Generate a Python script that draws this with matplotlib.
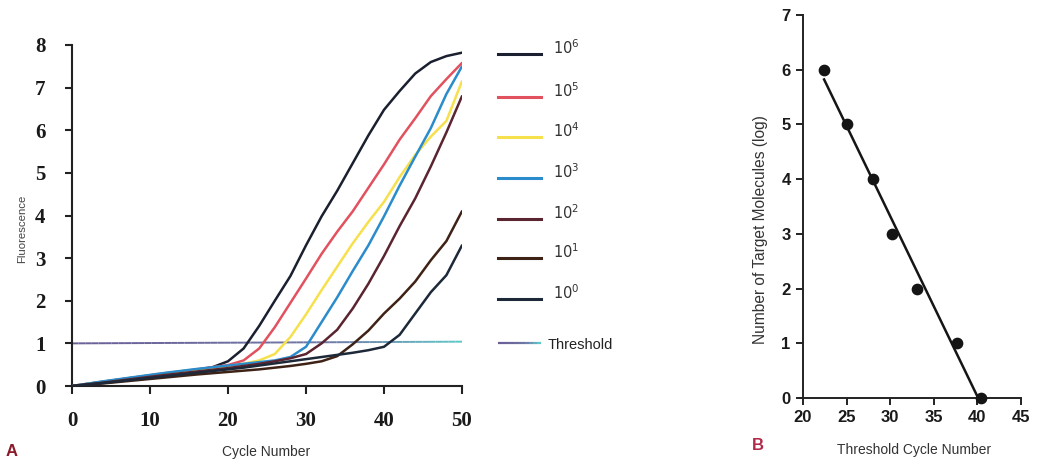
import numpy as np
import matplotlib
matplotlib.use("Agg")
import matplotlib.pyplot as plt
from matplotlib.collections import LineCollection
from matplotlib.lines import Line2D

plt.rcParams['mathtext.fontset'] = 'custom'
plt.rcParams['mathtext.rm'] = 'Liberation Sans'

# ---------------- Data (panel A) ----------------
cycles = [0, 4, 8, 12, 16, 18, 20, 22, 24, 26, 28, 30, 32, 34, 36, 38, 40, 42, 44, 46, 48, 50]
f_1e6 = [0, 0.10, 0.20, 0.29, 0.38, 0.44, 0.58, 0.88, 1.41, 2.00, 2.58, 3.30, 3.98, 4.58, 5.23, 5.88, 6.48, 6.92, 7.33, 7.60, 7.74, 7.82]
f_1e5 = [0, 0.10, 0.20, 0.30, 0.39, 0.44, 0.49, 0.60, 0.88, 1.38, 1.95, 2.52, 3.10, 3.62, 4.10, 4.65, 5.20, 5.78, 6.28, 6.80, 7.20, 7.58]
f_1e4 = [0, 0.10, 0.20, 0.30, 0.38, 0.42, 0.47, 0.52, 0.60, 0.75, 1.15, 1.68, 2.25, 2.80, 3.35, 3.85, 4.32, 4.90, 5.42, 5.85, 6.22, 7.15]
f_1e3 = [0, 0.11, 0.21, 0.31, 0.40, 0.44, 0.48, 0.52, 0.56, 0.60, 0.68, 0.92, 1.50, 2.08, 2.70, 3.30, 3.98, 4.70, 5.38, 6.05, 6.85, 7.50]
f_1e2 = [0, 0.08, 0.17, 0.26, 0.34, 0.38, 0.42, 0.47, 0.52, 0.58, 0.65, 0.75, 1.00, 1.32, 1.82, 2.40, 3.05, 3.75, 4.40, 5.15, 5.95, 6.80]
f_1e1 = [0, 0.06, 0.13, 0.20, 0.27, 0.30, 0.33, 0.36, 0.39, 0.43, 0.47, 0.52, 0.58, 0.70, 0.98, 1.30, 1.70, 2.05, 2.45, 2.95, 3.40, 4.10]
f_1e0 = [0, 0.07, 0.15, 0.23, 0.31, 0.35, 0.39, 0.43, 0.48, 0.53, 0.58, 0.63, 0.68, 0.73, 0.78, 0.84, 0.92, 1.20, 1.70, 2.20, 2.60, 3.30]
series_exponents = ['6', '5', '4', '3', '2', '1', '0']
threshold_cycles = [0, 50]
threshold_values = [1.0, 1.04]

# ---------------- Data (panel B) ----------------
ct_values = [22.42, 25.1, 27.98, 30.24, 33.04, 37.7, 40.4]
log_molecules = [6, 5, 4, 3, 2, 1, 0]

series = [f_1e6, f_1e5, f_1e4, f_1e3, f_1e2, f_1e1, f_1e0]
colors = ['#1b2030', '#e2525e', '#f6e04c', '#2b8ccb', '#5a2530', '#3e2216', '#1d2838']

W, H = 1037, 462
fig = plt.figure(figsize=(W / 100, H / 100), dpi=100)
fig.patch.set_facecolor('white')

serif_family = ['Liberation Serif', 'DejaVu Serif']
narrow = ['Liberation Sans Narrow', 'Liberation Sans', 'DejaVu Sans']

# ---------------- Panel A ----------------
axA = fig.add_axes([72 / W, 1 - 386 / H, (462 - 72) / W, (386 - 45) / H])
for vals, c in zip(series, colors):
    axA.plot(cycles, vals, color=c, lw=1.8, solid_capstyle='round',
             solid_joinstyle='round', zorder=3)

# threshold with purple -> teal gradient
tx = np.linspace(threshold_cycles[0], threshold_cycles[1], 60)
ty = np.interp(tx, threshold_cycles, threshold_values)
pts = np.column_stack([tx, ty]).reshape(-1, 1, 2)
segs = np.concatenate([pts[:-1], pts[1:]], axis=1)
cmap = matplotlib.colors.LinearSegmentedColormap.from_list(
    'thr', ['#6b5f98', '#6b6a9c', '#6f7aa6', '#5fc6c8'])
lc = LineCollection(segs, colors=cmap(np.linspace(0, 1, len(segs))), lw=1.4, zorder=2)
axA.add_collection(lc)

axA.set_xlim(0, 50)
axA.set_ylim(0, 8)
axA.set_xticks([0, 10, 20, 30, 40, 50])
axA.set_yticks(range(0, 9))
for s in ['top', 'right']:
    axA.spines[s].set_visible(False)
for s in ['left', 'bottom']:
    axA.spines[s].set_linewidth(1.5)
    axA.spines[s].set_color('#222222')
axA.tick_params(axis='x', direction='out', length=6, width=1.5, pad=12, colors='#222222')
axA.tick_params(axis='y', direction='out', length=5, width=1.5, pad=14, colors='#222222')
for lab in axA.get_xticklabels() + axA.get_yticklabels():
    lab.set_fontfamily(serif_family)
    lab.set_fontweight('bold')
    lab.set_fontsize(15)
    lab.set_color('#1a1a1a')
axA.set_facecolor('none')

fig.text(22 / W, 1 - 229 / H, 'Fluorescence', rotation=90, ha='center', va='center',
         fontsize=8.2, family=narrow, color='#444444')
fig.text(266 / W, 1 - 452 / H, 'Cycle Number', ha='center', va='center',
         fontsize=10, family=narrow, color='#333333')
fig.text(12 / W, 1 - 452 / H, 'A', ha='center', va='center', fontsize=12,
         family=narrow, fontweight='bold', color='#8a1a2a')

# legend (manual)
legend_y = [54, 97, 137, 178, 219, 258, 299]
for yy, c, e in zip(legend_y, colors, series_exponents):
    fig.add_artist(Line2D([498 / W, 541 / W], [1 - yy / H, 1 - yy / H], color=c, lw=2.2,
                          transform=fig.transFigure))
    fig.text(553 / W, 1 - (yy - 6) / H, r'$\mathregular{10^{%s}}$' % e, ha='left', va='center',
             fontsize=10.5, color='#333333')
thr_leg = np.linspace(498, 541, 12)
tpts = np.column_stack([thr_leg / W, np.full_like(thr_leg, 1 - 343 / H)]).reshape(-1, 1, 2)
tsegs = np.concatenate([tpts[:-1], tpts[1:]], axis=1)
fig.add_artist(LineCollection(tsegs, colors=cmap(np.linspace(0, 1, len(tsegs))), lw=1.6,
                              transform=fig.transFigure))
fig.text(548 / W, 1 - 345 / H, 'Threshold', ha='left', va='center', fontsize=10.5,
         family=narrow, color='#222222')

# ---------------- Panel B ----------------
axB = fig.add_axes([803 / W, 1 - 398 / H, (1021 - 803) / W, (398 - 15) / H])
slope, intercept = np.polyfit(ct_values, log_molecules, 1)
x_end = -intercept / slope
xf = np.array([min(ct_values), x_end])
axB.plot(xf, slope * xf + intercept, color='#151515', lw=1.8, zorder=2)
axB.scatter(ct_values, log_molecules, s=55, color='#151515', zorder=3, clip_on=False)
axB.set_xlim(20, 45)
axB.set_ylim(0, 7)
axB.set_xticks([20, 25, 30, 35, 40, 45])
axB.set_yticks(range(0, 8))
for s in ['top', 'right']:
    axB.spines[s].set_visible(False)
for s in ['left', 'bottom']:
    axB.spines[s].set_linewidth(1.4)
    axB.spines[s].set_color('#222222')
axB.spines['bottom'].set_bounds(19.7, 45)
axB.tick_params(axis='x', direction='out', length=5, width=1.4, pad=4, colors='#222222')
axB.tick_params(axis='y', direction='out', length=5, width=1.4, pad=4, colors='#222222')
for lab in axB.get_xticklabels() + axB.get_yticklabels():
    lab.set_fontfamily(narrow)
    lab.set_fontweight('bold')
    lab.set_fontsize(12)
    lab.set_color('#1a1a1a')
axB.set_facecolor('none')

fig.text(761 / W, 1 - 230 / H, 'Number of Target Molecules (log)', rotation=90,
         ha='center', va='center', fontsize=11.2, family=narrow, color='#333333')
fig.text(914 / W, 1 - 450 / H, 'Threshold Cycle Number', ha='center', va='center',
         fontsize=10, family=narrow, color='#333333')
fig.text(758 / W, 1 - 446 / H, 'B', ha='center', va='center', fontsize=12,
         family=narrow, fontweight='bold', color='#b02a4a')

fig.savefig('out.png', dpi=100, facecolor='white')
